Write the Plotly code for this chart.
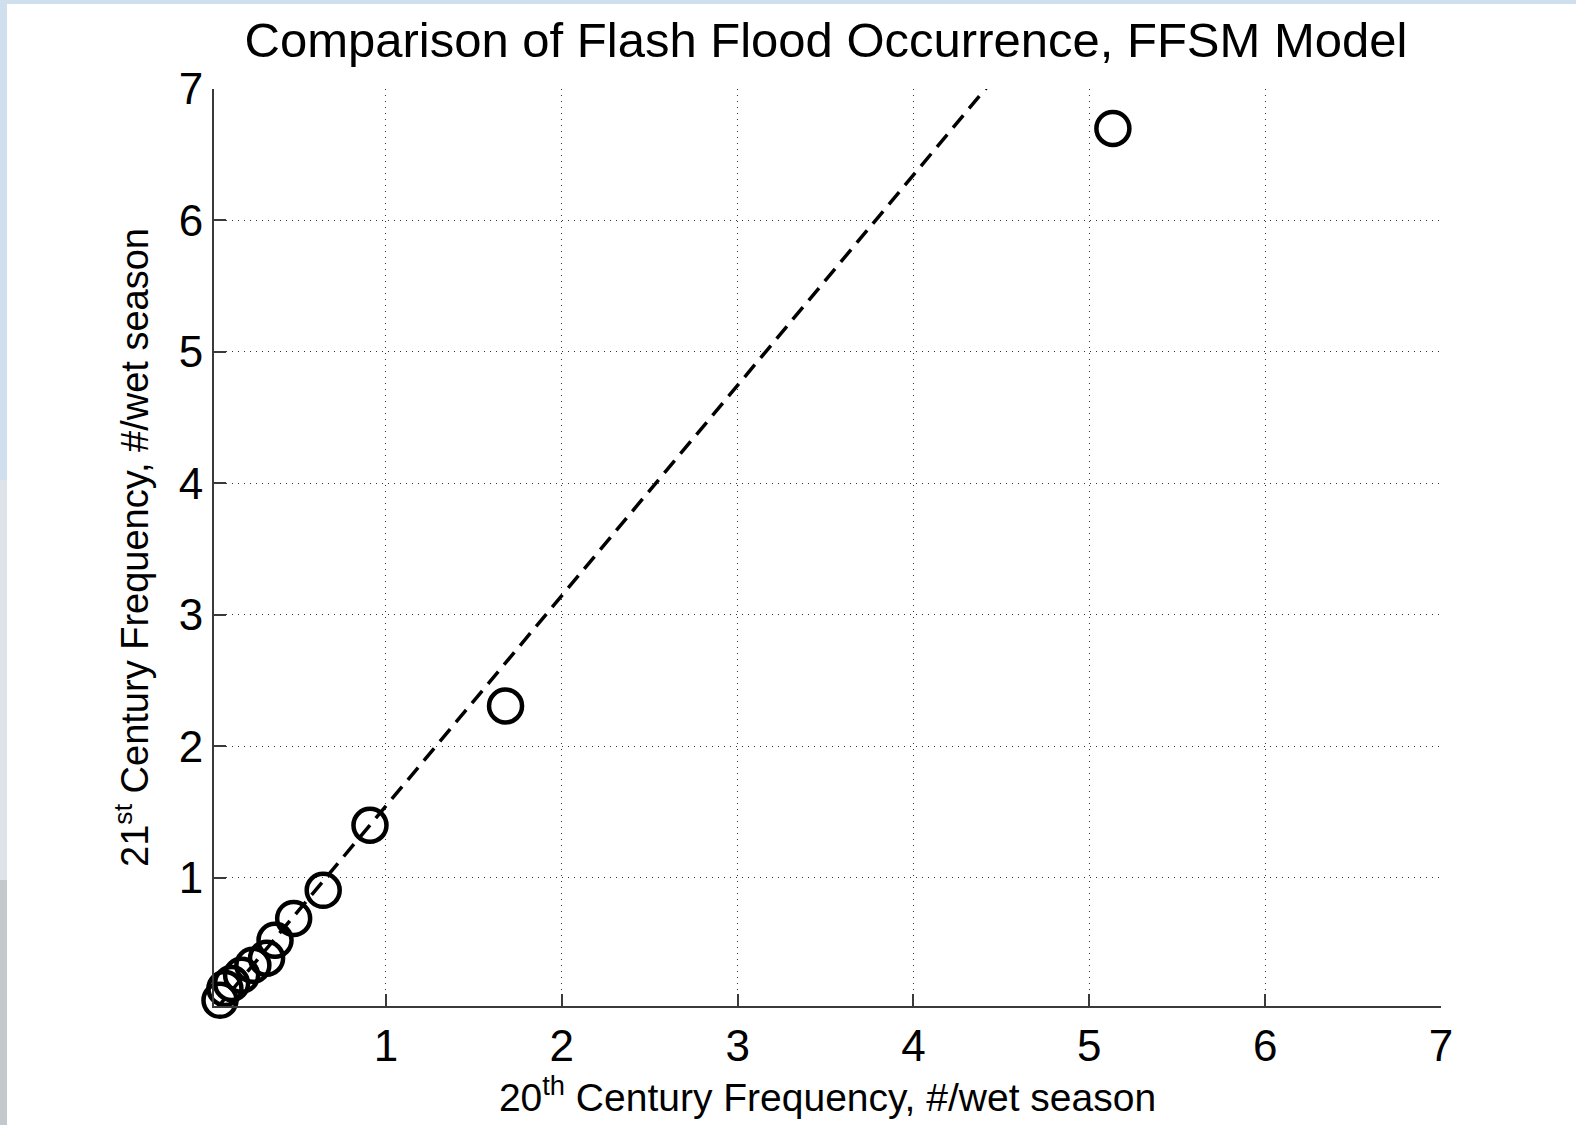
import plotly.graph_objects as go

# Data
x20 = [5.134, 1.68, 0.909, 0.643, 0.475, 0.369, 0.321, 0.243, 0.179, 0.122, 0.084, 0.056]
y21 = [6.70, 2.306, 1.399, 0.904, 0.69, 0.524, 0.387, 0.334, 0.258, 0.196, 0.158, 0.067]
fit_slope = 1.6
fit_intercept = -0.054
fit_x = [0.03, 7.0]
fit_y = [fit_intercept + fit_slope * v for v in fit_x]
tick_vals = [1, 2, 3, 4, 5, 6, 7]
tick_text = ["1", "2", "3", "4", "5", "6", "7"]

FONT = "Arial, Liberation Sans, Helvetica, sans-serif"

fig = go.Figure()
fig.add_trace(go.Scatter(
    x=fit_x, y=fit_y, mode="lines",
    line=dict(color="black", width=3.5, dash="16px,9px"),
    showlegend=False, hoverinfo="skip"))
fig.add_trace(go.Scatter(
    x=x20, y=y21, mode="markers",
    marker=dict(symbol="circle-open", size=33, color="black",
                line=dict(color="black", width=4.5)),
    showlegend=False, cliponaxis=False))

W, H = 1576, 1125
L, R, T, B = 214, 1441, 89, 1006
pw, ph = R - L, B - T

def px(X):
    return (X - L) / pw

def py(Y):
    return (B - Y) / ph

shapes = [
    # white slide area over light-blue border
    dict(type="rect", xref="paper", yref="paper", layer="below",
         x0=px(7), x1=px(W + 5), y0=py(H + 5), y1=py(4),
         fillcolor="white", line=dict(width=0)),
    # lighter / greyish lower part of the left border strip
    dict(type="rect", xref="paper", yref="paper", layer="below",
         x0=px(-5), x1=px(7), y0=py(H + 5), y1=py(480),
         fillcolor="#dde3e8", line=dict(width=0)),
    dict(type="rect", xref="paper", yref="paper", layer="below",
         x0=px(-5), x1=px(7), y0=py(H + 5), y1=py(880),
         fillcolor="#c3c8cd", line=dict(width=0)),
]

fig.update_layout(
    width=W, height=H,
    margin=dict(l=L, r=W - R, t=T, b=H - B, pad=0),
    paper_bgcolor="#cfdfee",
    plot_bgcolor="white",
    font=dict(family=FONT, color="black", size=44),
    title=dict(text="Comparison of Flash Flood Occurrence, FFSM Model",
               x=px(826), xanchor="center", xref="paper",
               y=1 - 40 / H, yanchor="middle",
               font=dict(size=49, family=FONT, color="black")),
    shapes=shapes,
    xaxis=dict(
        range=[0.022, 7], tickmode="array", tickvals=tick_vals, ticktext=tick_text,
        showgrid=True, gridcolor="#333333", gridwidth=1, griddash="1px,5px",
        showline=True, linecolor="#3a3a3a", linewidth=2, mirror=False,
        ticks="inside", ticklen=12, tickwidth=2, tickcolor="#3a3a3a",
        zeroline=False, tickfont=dict(size=44, family=FONT),
        title=dict(text="20<sup>th</sup> Century Frequency, #/wet season",
                   font=dict(size=39, family=FONT), standoff=10),
    ),
    yaxis=dict(
        range=[0.024, 7], tickmode="array", tickvals=tick_vals, ticktext=tick_text,
        showgrid=True, gridcolor="#333333", gridwidth=1, griddash="1px,5px",
        showline=True, linecolor="#3a3a3a", linewidth=2, mirror=False,
        ticks="inside", ticklen=12, tickwidth=2, tickcolor="#3a3a3a",
        zeroline=False, tickfont=dict(size=44, family=FONT),
        title=dict(text="21<sup>st</sup> Century Frequency, #/wet season",
                   font=dict(size=38, family=FONT), standoff=18),
    ),
)

fig.write_html(
    "out.html",
    config={"displayModeBar": False},
    post_script="document.body.style.margin='0px';document.body.style.overflow='hidden';",
)
